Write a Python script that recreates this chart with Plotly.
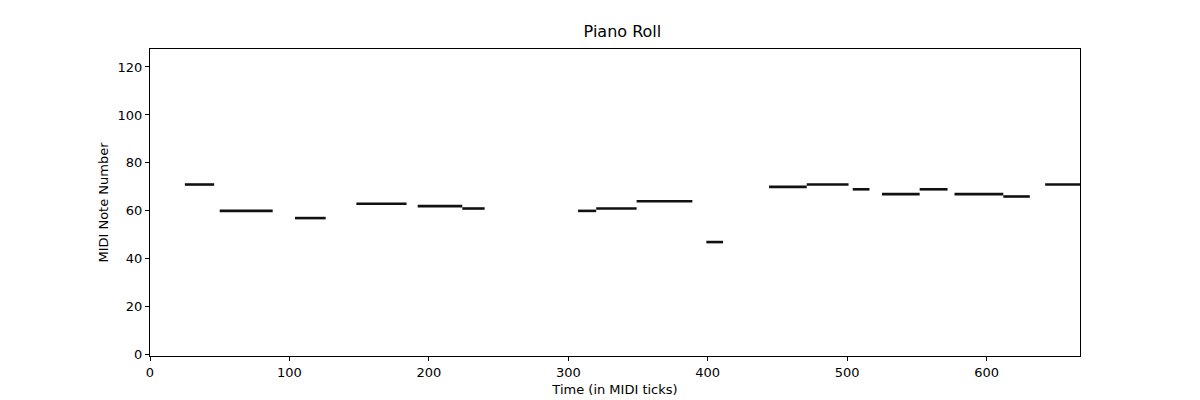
import plotly.graph_objects as go

# note data: start tick, end tick, pitch
starts = [25, 50, 104, 148, 192, 224, 307, 320, 349, 399, 444, 471, 504, 525, 552, 577, 612, 642]
ends = [46, 88, 126, 184, 224, 240, 320, 349, 389, 411, 471, 501, 516, 552, 572, 612, 631, 667]
pitches = [71, 60, 57, 63, 62, 61, 60, 61, 64, 47, 70, 71, 69, 67, 69, 67, 66, 71]

# one line trace, None lifts the pen between notes
xs, ys = [], []
for s, e, p in zip(starts, ends, pitches):
    xs.extend([s, e, None])
    ys.extend([p, p, None])

fig = go.Figure(go.Scatter(x=xs, y=ys, mode='lines',
                           line=dict(color='#111111', width=2.6), hoverinfo='skip'))

axis_common = dict(showgrid=False, zeroline=False, showline=True, mirror=True,
                   linecolor='black', linewidth=1, ticks='outside', ticklen=4,
                   tickcolor='black', tickfont=dict(size=13, color='black'))

fig.update_layout(
    width=1200, height=400,
    paper_bgcolor='white', plot_bgcolor='white',
    font=dict(family='DejaVu Sans', color='black'),
    title=dict(text='Piano Roll', x=0.512, xanchor='center', y=0.955, yanchor='top',
               font=dict(size=16)),
    margin=dict(l=142, r=128, t=41, b=52),
    showlegend=False,
    xaxis=dict(range=[0, 667], tickvals=[0, 100, 200, 300, 400, 500, 600],
               title=dict(text='Time (in MIDI ticks)', font=dict(size=13), standoff=6),
               **axis_common),
    yaxis=dict(range=[-0.5, 127.5], tickvals=[0, 20, 40, 60, 80, 100, 120],
               title=dict(text='MIDI Note Number', font=dict(size=13), standoff=6),
               **axis_common),
)

fig.write_html("out.html")
